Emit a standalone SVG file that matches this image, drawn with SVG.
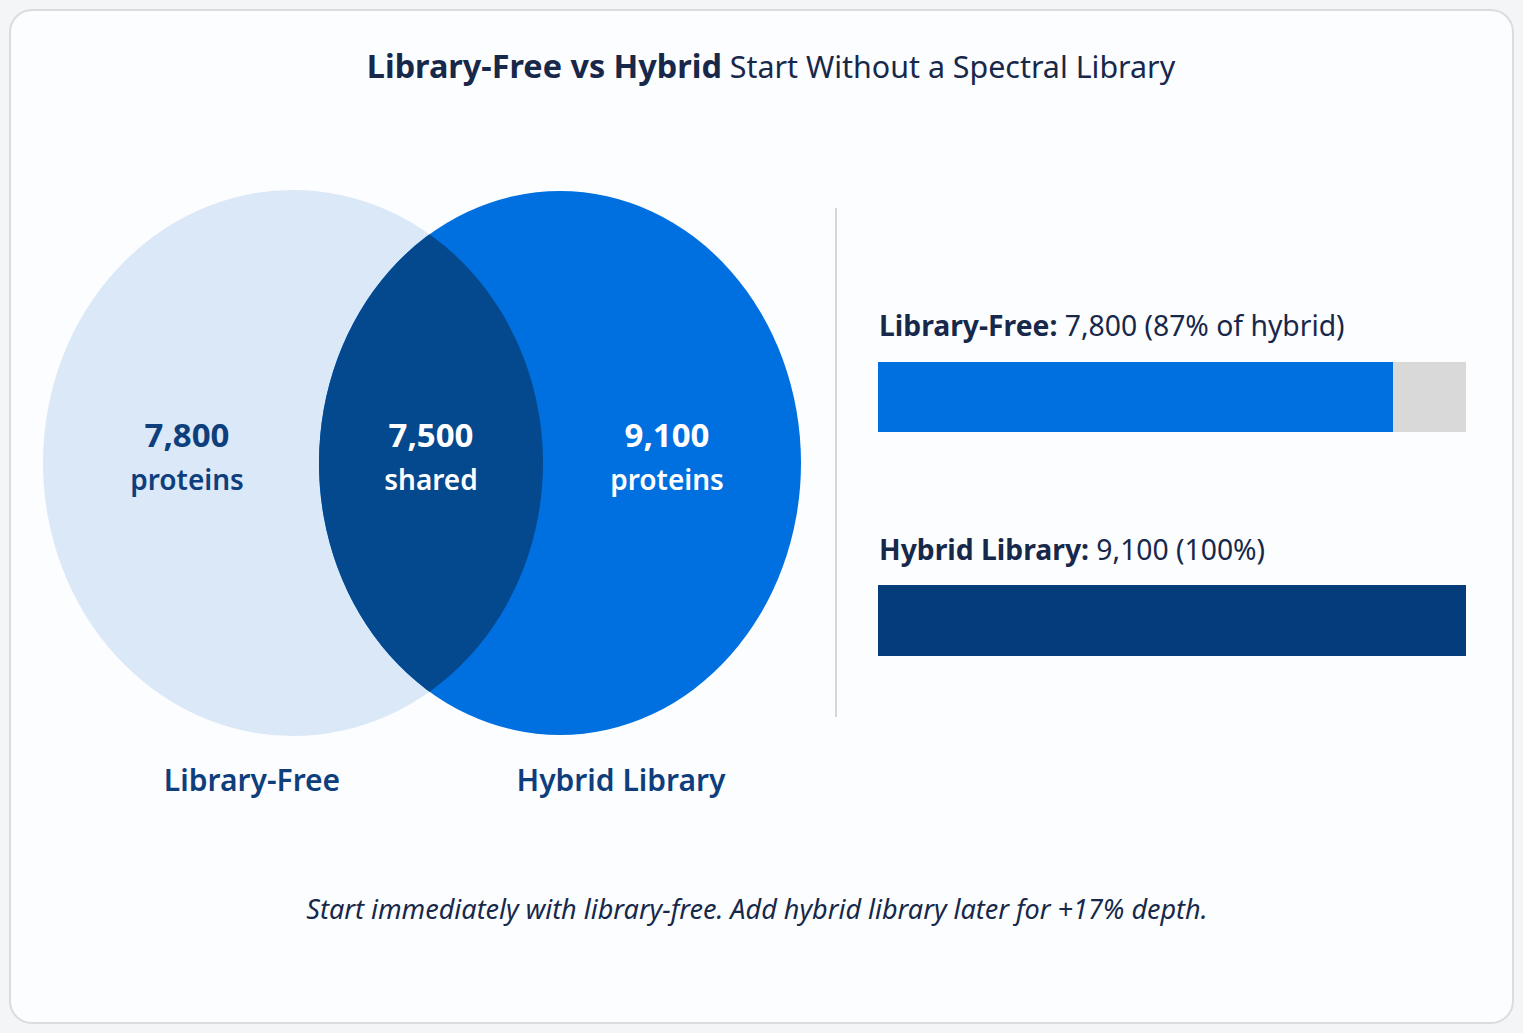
<svg xmlns="http://www.w3.org/2000/svg" width="1523" height="1033" viewBox="0 0 1523 1033">
<defs>
<style>
text{font-family:"Noto Sans","Open Sans","Liberation Sans",sans-serif}
.num{font-size:33px;font-weight:700;text-anchor:middle}
.sub{font-size:28px;font-weight:600;text-anchor:middle}
.lbl{font-size:30px;font-weight:600;fill:#0E3F7C;text-anchor:middle}
.bl{font-size:28.3px;fill:#17284A}
.b{font-weight:700}
</style>
<clipPath id="clipL"><ellipse cx="293" cy="463" rx="250" ry="273"/></clipPath>
</defs>
<rect x="0" y="0" width="1523" height="1033" fill="#F4F5F7"/>
<rect x="10" y="10" width="1503" height="1013" rx="22" fill="#FCFDFE" stroke="#DCDCDC" stroke-width="2"/>
<g id="title">
<text x="771" y="78" text-anchor="middle" fill="#17284A" font-size="30.4"><tspan font-weight="700" font-size="32.4">Library-Free vs Hybrid</tspan> <tspan>Start Without a Spectral Library</tspan></text>
</g>
<g id="venn-free">
<ellipse cx="293" cy="463" rx="250" ry="273" fill="#DBE8F8"/>
<text class="num" x="187" y="447" fill="#0E3F7C">7,800</text>
<text class="sub" x="187" y="490" fill="#0E3F7C">proteins</text>
</g>
<g id="venn-hybrid">
<ellipse cx="560" cy="463" rx="241" ry="272" fill="#0070E0"/>
<text class="num" x="667" y="447" fill="#FFFFFF">9,100</text>
<text class="sub" x="667" y="490" fill="#FFFFFF">proteins</text>
</g>
<g id="venn-shared">
<ellipse cx="560" cy="463" rx="241" ry="272" fill="#04488E" clip-path="url(#clipL)"/>
<text class="num" x="431" y="447" fill="#FFFFFF">7,500</text>
<text class="sub" x="431" y="490" fill="#FFFFFF">shared</text>
</g>
<g id="label-free"><text class="lbl" x="252" y="791">Library-Free</text></g>
<g id="label-hybrid"><text class="lbl" x="621" y="791" font-size="29.3">Hybrid Library</text></g>
<g id="connectors">
<line x1="836" y1="208" x2="836" y2="717" stroke="#D6D6D6" stroke-width="2"/>
</g>
<g id="bar-free">
<text class="bl" x="879" y="336"><tspan class="b">Library-Free:</tspan> 7,800 (87% of hybrid)</text>
<rect x="878" y="362" width="588" height="70" fill="#D9D9D9"/>
<rect x="878" y="362" width="515" height="70" fill="#0070E0"/>
</g>
<g id="bar-hybrid">
<text class="bl" x="879" y="560"><tspan class="b">Hybrid Library:</tspan> 9,100 (100%)</text>
<rect x="878" y="585" width="588" height="71" fill="#053D7B"/>
</g>
<g id="footer">
<text x="757" y="919" text-anchor="middle" font-size="27" font-style="italic" fill="#17284A">Start immediately with library-free. Add hybrid library later for +17% depth.</text>
</g>
</svg>
